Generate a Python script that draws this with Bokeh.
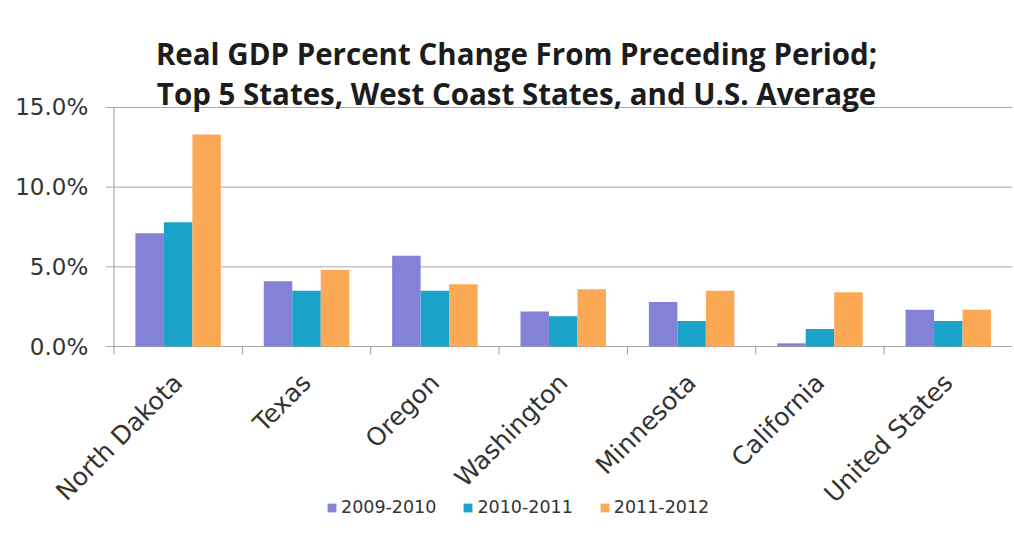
from math import pi
from bokeh.plotting import figure
from bokeh.models import Range1d, Legend, LegendItem, ColumnDataSource
from bokeh.core.properties import value
from bokeh.embed import file_html
from bokeh.resources import INLINE

states = ["North Dakota", "Texas", "Oregon", "Washington", "Minnesota", "California", "United States"]
v2009_2010 = [7.1, 4.1, 5.7, 2.2, 2.8, 0.2, 2.3]
v2010_2011 = [7.8, 3.5, 3.5, 1.9, 1.6, 1.1, 1.6]
v2011_2012 = [13.3, 4.8, 3.9, 3.6, 3.5, 3.4, 2.3]
series_names = ["2009-2010", "2010-2011", "2011-2012"]
y_ticks = [0, 5, 10, 15]
y_tick_labels = ["0.0%", "5.0%", "10.0%", "15.0%"]
title_lines = ["Real GDP Percent Change From Preceding Period;",
               "Top 5 States, West Coast States, and U.S. Average"]

colors = ["#8482d6", "#1ba2cb", "#fca955"]
FONT = "DejaVu Sans"
GRAY = "#9a9a9a"

n = len(states)
centers = [i + 0.5 for i in range(n)]
values = {"a": v2009_2010, "b": v2010_2011, "c": v2011_2012}

# the frame covers the whole drawing area; axes and titles are drawn inside it
p = figure(width=1012, height=540, output_backend="svg", toolbar_location=None,
           x_range=Range1d(-0.884, n), y_range=Range1d(-11.86, 21.40),
           x_axis_location=None, y_axis_location=None,
           min_border_left=0, min_border_top=5, min_border_bottom=5, min_border_right=0)
p.outline_line_color = None
p.background_fill_color = "white"
p.border_fill_color = "white"
p.xgrid.grid_line_color = None
p.ygrid.grid_line_color = None

# horizontal grid lines with small outward ticks
tick_x = 0.0623
p.segment(x0=[-tick_x] * len(y_ticks), y0=y_ticks, x1=[n] * len(y_ticks), y1=y_ticks,
          line_color="#a8a8a8", line_width=1)

bw = 0.222
renderers = []
for key, off, col in zip(["a", "b", "c"], [-bw, 0, bw], colors):
    s = ColumnDataSource(dict(x=[c + off for c in centers], top=values[key]))
    r = p.vbar(x="x", top="top", bottom=0, width=bw, source=s, fill_color=col, line_color=None)
    renderers.append(r)

# y axis line and category boundary ticks
tick_len = 0.5
p.segment(x0=[0], y0=[-tick_len], x1=[0], y1=[y_ticks[-1]], line_color=GRAY, line_width=1)
bounds = list(range(1, n + 1))
p.segment(x0=bounds, y0=[0] * len(bounds), x1=bounds, y1=[-tick_len] * len(bounds),
          line_color=GRAY, line_width=1)

# y tick labels
p.text(x=[-0.2] * len(y_ticks), y=y_ticks, text=y_tick_labels,
       text_align="right", text_baseline="middle",
       text_font=value(FONT), text_font_size="23px", text_color="#333333")

# rotated category labels
label_y = -2.0
p.text(x=centers, y=[label_y] * n, text=states, angle=pi / 4,
       text_align="right", text_baseline="middle",
       text_font=value(FONT), text_font_size="25px", text_color="#333333")

# two-line title
title_x = 3.136
p.text(x=[title_x, title_x], y=[18.39, 15.88], text=title_lines,
       text_align="center", text_baseline="alphabetic",
       text_font=value("Open Sans"), text_font_style="bold",
       text_font_size="29.5px", text_color="#1c1c1c")

legend = Legend(items=[LegendItem(label=nm, renderers=[r]) for nm, r in zip(series_names, renderers)],
                location=(326, 18), orientation="horizontal")
legend.border_line_color = None
legend.background_fill_alpha = 0
legend.padding = 0
legend.margin = 0
legend.glyph_width = 11
legend.glyph_height = 11
legend.label_standoff = 4
legend.spacing = 26
legend.label_text_font = FONT
legend.label_text_font_size = "17.5px"
legend.label_text_color = "#333333"
p.add_layout(legend, "center")

open("out.html", "w").write(file_html(p, INLINE))
